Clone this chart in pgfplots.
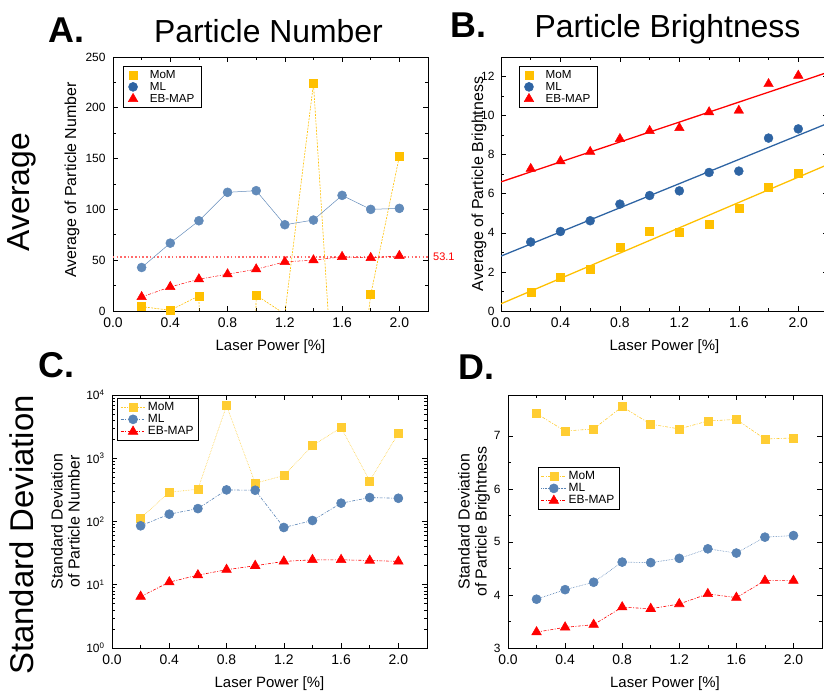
\documentclass[border=0pt]{standalone}
\usepackage{fontspec}
\setmainfont{Liberation Sans}
\usepackage{pgfplots}
\pgfplotsset{compat=1.18}
\definecolor{mom}{HTML}{FFC000}
\definecolor{ml}{HTML}{2E64A3}
\definecolor{eb}{HTML}{FF0000}
\definecolor{ebdot}{HTML}{FF6A6A}
\newcommand{\fs}[1]{\fontsize{#1}{#1}\selectfont}

\pgfplotsset{
 panel/.style={
  scale only axis,
  clip mode=individual,
  axis line style={line width=0.9pt},
  every tick/.style={black, line width=0.6pt},
  major tick length=5bp, minor tick length=3bp,
  tick align=inside,
  xmin=0, xmax=2.2,
  xtick={0,0.4,0.8,1.2,1.6,2.0},
  minor x tick num=1,
  /pgf/number format/assume math mode=true,
  xticklabel style={font=\fs{14}, yshift=-3bp},
  x tick label style={/pgf/number format/fixed, /pgf/number format/fixed zerofill, /pgf/number format/precision=1},
  yticklabel style={font=\fs{12}, xshift=-4bp},
  xlabel={Laser Power [\%]},
  xlabel style={font=\fs{15}, yshift=-5bp},
  ylabel style={font=\fontsize{16}{17}\selectfont, align=center, anchor=center},
  legend cell align=left,
  legend style={font=\fs{12}, draw=black, line width=0.5pt, inner xsep=3pt, inner ysep=2pt, row sep=-1.5pt, anchor=north west},
 },
 markleg/.style={legend style={inner xsep=5pt, font=\fs{11.7}, /tikz/every odd column/.append style={column sep=10pt}}},
 longleg/.style={legend image code/.code={\draw[mark repeat=2,mark phase=2,##1] plot coordinates {(0cm,0cm)(0.44cm,0cm)(0.88cm,0cm)};}},
 mommk/.style={mom, mark=square*, mark size=4bp, mark options={solid}},
 mlmk/.style={ml, mark=*, mark size=4.5bp, mark options={solid}},
 ebmk/.style={eb, mark=triangle*, mark size=5.5bp, mark options={solid}},
}

\begin{document}
\begin{tikzpicture}
\path[use as bounding box] (0,0) rectangle (824bp,-693bp);

% titles and labels
\node[anchor=base west, font=\fontsize{36}{36}\selectfont\bfseries, inner sep=0] at (48bp,-42bp) {A.};
\node[anchor=base west, font=\fontsize{36}{36}\selectfont\bfseries, inner sep=0] at (450bp,-37bp) {B.};
\node[anchor=base west, font=\fontsize{36}{36}\selectfont\bfseries, inner sep=0] at (38bp,-377bp) {C.};
\node[anchor=base west, font=\fontsize{36}{36}\selectfont\bfseries, inner sep=0] at (458bp,-379bp) {D.};
\node[anchor=base, font=\fs{32}, inner sep=0] at (268.5bp,-42bp) {Particle Number};
\node[anchor=base, font=\fs{32}, inner sep=0] at (667.5bp,-37bp) {Particle Brightness};
\node[rotate=90, font=\fs{32}, inner sep=0] at (22bp,-192bp) {Average};
\node[rotate=90, font=\fs{33}, inner sep=0] at (22bp,-535bp) {Standard Deviation};

% ---------------- A ----------------
\begin{axis}[panel, markleg, at={(113bp,-311bp)}, anchor=south west, width=315bp, height=254bp,
  ymin=0, ymax=250, ytick={0,50,100,150,200,250}, minor y tick num=1,
  ylabel={Average of Particle Number},
  ylabel style={at={(axis description cs:-0.13,0.515)}},
  legend style={at={(axis description cs:0.032,0.965)}}]
\addlegendimage{only marks, mommk}
\addlegendimage{only marks, mlmk}
\addlegendimage{only marks, ebmk}
\addplot[forget plot, ebdot, line width=1.3pt, dash pattern=on 1.5pt off 2.2pt] coordinates {(0,53.1)(2.2,53.1)};
\addplot[forget plot, mommk, line width=0.6pt, dash pattern=on 2pt off 1.2pt] coordinates {(0.2,4.3)(0.4,0.7)(0.6,14.8)(0.8,-1500)(1.0,15.5)(1.2,-3)(1.4,223.7)(1.6,-215)(1.8,16)(2.0,152.3)};
\addplot[forget plot, mlmk, line width=0.5pt, ml!75] coordinates {(0.2,42.8)(0.4,66.8)(0.6,88.8)(0.8,116.8)(1.0,118.4)(1.2,84.9)(1.4,89.5)(1.6,113.8)(1.8,100)(2.0,101)};
\addplot[forget plot, ebmk, line width=0.5pt, dash pattern=on 3pt off 1.5pt on 1pt off 1.5pt] coordinates {(0.2,13.8)(0.4,23.7)(0.6,31.3)(0.8,36.2)(1.0,41.1)(1.2,48.4)(1.4,50)(1.6,53.3)(1.8,52.3)(2.0,54.3)};
\node[color=eb, font=\fs{11}, anchor=west, inner sep=0, xshift=5bp] at (axis cs:2.2,53.1) {53.1};
\legend{MoM, ML, EB-MAP}
\end{axis}

% ---------------- B ----------------
\begin{axis}[panel, markleg, at={(501bp,-311bp)}, anchor=south west, width=327bp, height=254bp,
  ymin=0, ymax=13, ytick={0,2,4,6,8,10,12}, minor y tick num=1,
  yticklabel style={xshift=1bp},
  ylabel={Average of Particle Brightness},
  ylabel style={at={(axis description cs:-0.067,0.5)}},
  legend style={at={(axis description cs:0.055,0.965)}}]
\addplot[forget plot, mom, line width=1.3pt] coordinates {(0,0.37)(2.2,7.5)};
\addplot[forget plot, ml, line width=1.3pt] coordinates {(0,2.81)(2.2,9.61)};
\addplot[forget plot, eb, line width=1.3pt] coordinates {(0,6.61)(2.2,12.22)};
\addplot[only marks, mommk] coordinates {(0.2,0.94)(0.4,1.74)(0.6,2.13)(0.8,3.27)(1.0,4.09)(1.2,4.04)(1.4,4.45)(1.6,5.25)(1.8,6.34)(2.0,7.06)};
\addplot[only marks, mlmk] coordinates {(0.2,3.53)(0.4,4.07)(0.6,4.62)(0.8,5.47)(1.0,5.91)(1.2,6.15)(1.4,7.09)(1.6,7.16)(1.8,8.85)(2.0,9.32)};
\addplot[only marks, ebmk] coordinates {(0.2,7.28)(0.4,7.67)(0.6,8.15)(0.8,8.81)(1.0,9.22)(1.2,9.37)(1.4,10.18)(1.6,10.26)(1.8,11.62)(2.0,12.05)};
\legend{MoM, ML, EB-MAP}
\end{axis}

% ---------------- C ----------------
\begin{axis}[panel, longleg, at={(112bp,-648bp)}, anchor=south west, width=315bp, height=253bp,
  ymode=log, ymin=1, ymax=10000, ytick={1,10,100,1000,10000},
  yticklabels={10\textsuperscript{0},10\textsuperscript{1},10\textsuperscript{2},10\textsuperscript{3},10\textsuperscript{4}},
  minor ytick={2,3,4,5,6,7,8,9,20,30,40,50,60,70,80,90,200,300,400,500,600,700,800,900,2000,3000,4000,5000,6000,7000,8000,9000},
  ylabel={Standard Deviation\\of Particle Number},
  ylabel style={at={(axis description cs:-0.148,0.5)}},
  legend style={at={(axis description cs:0.016,0.988)}}]
\addplot[mommk, line width=0.6pt, mom!80, densely dotted] coordinates {(0.2,113)(0.4,290)(0.6,324)(0.8,6800)(1.0,403)(1.2,532)(1.4,1585)(1.6,3050)(1.8,439)(2.0,2480)};
\addplot[mlmk, line width=0.6pt, ml!80, dash pattern=on 3pt off 1.5pt on 1pt off 1.5pt] coordinates {(0.2,85.5)(0.4,130.6)(0.6,160)(0.8,316)(1.0,312)(1.2,80.4)(1.4,103.7)(1.6,195)(1.8,239)(2.0,233)};
\addplot[ebmk, line width=0.6pt, dash pattern=on 3pt off 1.5pt on 1pt off 1.5pt] coordinates {(0.2,6.5)(0.4,11)(0.6,14.2)(0.8,17.3)(1.0,20)(1.2,23.4)(1.4,24.8)(1.6,24.8)(1.8,24.2)(2.0,23.4)};
\legend{MoM, ML, EB-MAP}
\end{axis}

% ---------------- D ----------------
\begin{axis}[panel, longleg, at={(508bp,-648bp)}, anchor=south west, width=314bp, height=253bp,
  ymin=3, ymax=7.77, ytick={3,4,5,6,7}, minor y tick num=1,
  ylabel={Standard Deviation\\of Particle Brightness},
  ylabel style={at={(axis description cs:-0.108,0.5)}},
  legend style={at={(axis description cs:0.095,0.715)}}]
\addplot[mommk, line width=0.6pt, mom!80, dash pattern=on 3pt off 1.5pt on 1pt off 1.5pt] coordinates {(0.2,7.42)(0.4,7.09)(0.6,7.13)(0.8,7.55)(1.0,7.22)(1.2,7.13)(1.4,7.28)(1.6,7.31)(1.8,6.94)(2.0,6.96)};
\addplot[mlmk, line width=0.6pt, ml!80, densely dotted] coordinates {(0.2,3.92)(0.4,4.10)(0.6,4.24)(0.8,4.62)(1.0,4.61)(1.2,4.69)(1.4,4.87)(1.6,4.79)(1.8,5.09)(2.0,5.12)};
\addplot[ebmk, line width=0.6pt, dash pattern=on 3pt off 1.5pt on 1pt off 1.5pt] coordinates {(0.2,3.30)(0.4,3.39)(0.6,3.44)(0.8,3.77)(1.0,3.74)(1.2,3.83)(1.4,4.02)(1.6,3.95)(1.8,4.27)(2.0,4.27)};
\legend{MoM, ML, EB-MAP}
\end{axis}
\end{tikzpicture}
\end{document}
